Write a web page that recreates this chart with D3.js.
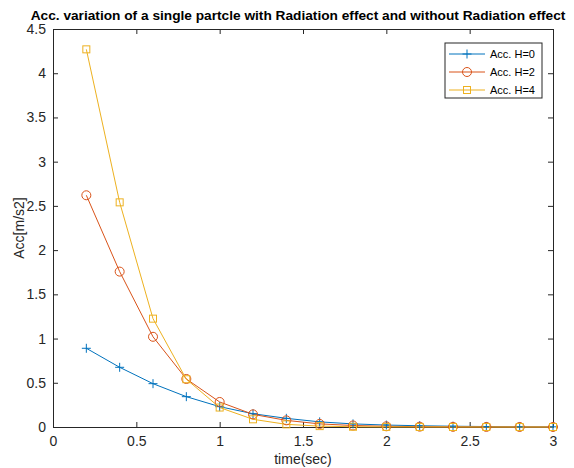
<!DOCTYPE html>
<html lang="en">
  <head>
    <meta charset="UTF-8" />
    <title>Acc. variation</title>
    <script src="https://d3js.org/d3.v7.min.js"></script>
    <style>
      body { margin: 0; background: #fff; }
      text { font-family: "Liberation Sans", Arial, sans-serif; }
    </style>
  </head>
  <body>
    <svg id="chart" width="574" height="468"></svg>
    <script>
      // time values (sec)
      const time = [0.2, 0.4, 0.6, 0.8, 1.0, 1.2, 1.4, 1.6, 1.8, 2.0, 2.2, 2.4, 2.6, 2.8, 3.0];
      const accH0 = [0.89, 0.675, 0.49, 0.343, 0.23, 0.15, 0.098, 0.058, 0.035, 0.022, 0.014, 0.009, 0.005, 0.003, 0.002];
      const accH2 = [2.62, 1.757, 1.02, 0.543, 0.283, 0.143, 0.075, 0.035, 0.017, 0.008, 0.004, 0.002, 0.001, 0.0005, 0.0002];
      const accH4 = [4.27, 2.54, 1.225, 0.54, 0.22, 0.087, 0.03, 0.01, 0.003, 0.001, 0.0004, 0.0001, 0, 0, 0];
      const seriesNames = ["Acc. H=0", "Acc. H=2", "Acc. H=4"];
      const xTicks = [0, 0.5, 1, 1.5, 2, 2.5, 3];
      const yTicks = [0, 0.5, 1, 1.5, 2, 2.5, 3, 3.5, 4, 4.5];

      const colors = ["#0072BD", "#D95319", "#EDB120"];
      const markers = ["plus", "circle", "square"];
      const series = [accH0, accH2, accH4].map((vals, i) => ({
        name: seriesNames[i], color: colors[i], marker: markers[i],
        points: vals.map((v, j) => [time[j], v])
      }));

      const svg = d3.select("#chart");
      const m = { left: 53, right: 553, top: 29, bottom: 427 };

      const x = d3.scaleLinear().domain([0, 3]).range([m.left, m.right]);
      const y = d3.scaleLinear().domain([0, 4.5]).range([m.bottom, m.top]);

      // axes box and ticks (inward, MATLAB style)
      const tl = 5;
      const gx = svg.append("g").attr("transform", `translate(0,${m.bottom})`)
        .call(d3.axisBottom(x).tickValues(xTicks).tickSizeInner(-tl).tickSizeOuter(0).tickPadding(9).tickFormat(d3.format("")));
      const gy = svg.append("g").attr("transform", `translate(${m.left},0)`)
        .call(d3.axisLeft(y).tickValues(yTicks).tickSizeInner(-tl).tickSizeOuter(0).tickPadding(7).tickFormat(d3.format("")));
      const gxt = svg.append("g").attr("transform", `translate(0,${m.top})`)
        .call(d3.axisTop(x).tickValues(xTicks).tickSizeInner(-tl).tickSizeOuter(0).tickFormat(""));
      const gyr = svg.append("g").attr("transform", `translate(${m.right},0)`)
        .call(d3.axisRight(y).tickValues(yTicks).tickSizeInner(-tl).tickSizeOuter(0).tickFormat(""));
      [gx, gy, gxt, gyr].forEach(g => {
        g.selectAll("path").attr("stroke", "#262626");
        g.selectAll("line").attr("stroke", "#262626");
        g.selectAll("text").attr("fill", "#262626").style("font-size", "14px")
          .style("font-family", "'Liberation Sans', Arial, sans-serif");
      });

      // lines
      const line = d3.line().x(d => x(d[0])).y(d => y(d[1]));
      series.forEach(s => {
        svg.append("path").datum(s.points)
          .attr("d", line).attr("fill", "none")
          .attr("stroke", s.color).attr("stroke-width", 1);
      });

      function drawMarker(g, type, cx, cy, color) {
        if (type === "plus") {
          g.append("path").attr("d", `M${cx - 4.5},${cy}H${cx + 4.5}M${cx},${cy - 4.5}V${cy + 4.5}`)
            .attr("stroke", color).attr("stroke-width", 1).attr("fill", "none");
        } else if (type === "circle") {
          g.append("circle").attr("cx", cx).attr("cy", cy).attr("r", 4.5)
            .attr("stroke", color).attr("stroke-width", 1).attr("fill", "none");
        } else {
          g.append("rect").attr("x", cx - 3.5).attr("y", cy - 3.5).attr("width", 7).attr("height", 7)
            .attr("stroke", color).attr("stroke-width", 1).attr("fill", "none");
        }
      }

      series.forEach(s => {
        const g = svg.append("g");
        s.points.forEach(p => drawMarker(g, s.marker, x(p[0]), y(p[1]), s.color));
      });

      // legend
      const lg = svg.append("g");
      lg.append("rect").attr("x", 445).attr("y", 43).attr("width", 97).attr("height", 55)
        .attr("fill", "#fff").attr("stroke", "#262626").attr("stroke-width", 1);
      series.forEach((s, i) => {
        const ly = 54 + i * 18;
        lg.append("line").attr("x1", 449).attr("x2", 485).attr("y1", ly).attr("y2", ly)
          .attr("stroke", s.color).attr("stroke-width", 1);
        drawMarker(lg, s.marker, 467, ly, s.color);
        lg.append("text").attr("x", 490).attr("y", ly + 4).text(s.name)
          .style("font-size", "11px").attr("fill", "#000");
      });

      // title and axis labels
      svg.append("text").attr("x", (m.left + m.right) / 2 - 5).attr("y", 20)
        .attr("text-anchor", "middle").style("font-size", "13.7px").style("font-weight", "bold")
        .attr("fill", "#000").text("Acc. variation of a single partcle with Radiation effect and without Radiation effect");
      svg.append("text").attr("x", (m.left + m.right) / 2).attr("y", 464)
        .attr("text-anchor", "middle").style("font-size", "14px").attr("fill", "#262626").text("time(sec)");
      svg.append("text").attr("transform", `translate(24,${(m.top + m.bottom) / 2}) rotate(-90)`)
        .attr("text-anchor", "middle").style("font-size", "14px").attr("fill", "#262626").text("Acc[m/s2]");
    </script>
  </body>
</html>
